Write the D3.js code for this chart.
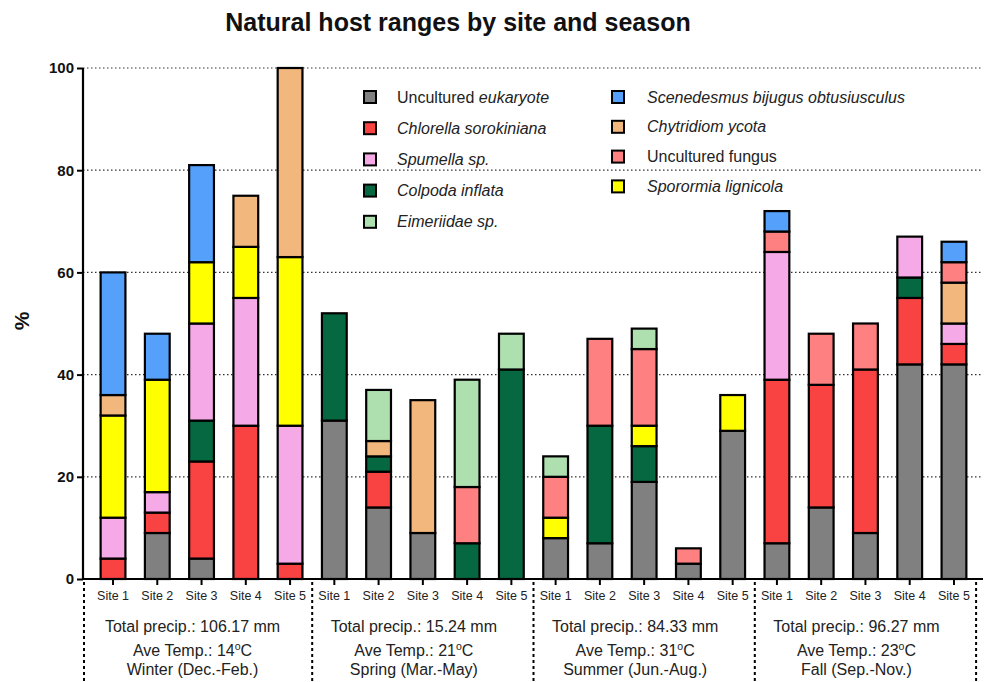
<!DOCTYPE html>
<html><head><meta charset="utf-8">
<script src="https://cdn.jsdelivr.net/npm/d3@7/dist/d3.min.js"></script>
<style>body{margin:0;background:#fff}svg{font-family:"Liberation Sans",Arial,sans-serif}</style>
</head><body><svg id="c" width="987" height="682"></svg>
<script>
const sites = ["Site 1","Site 2","Site 3","Site 4","Site 5"];
const seasons = ["Winter (Dec.-Feb.)","Spring (Mar.-May)","Summer (Jun.-Aug.)","Fall (Sep.-Nov.)"];
const precip = ["106.17","15.24","84.33","96.27"];
const temps = ["14","21","31","23"];
const yTicks = [0,20,40,60,80,100];

// values per bar: Winter S1..S5, Spring S1..S5, Summer S1..S5, Fall S1..S5
const eukaryote   = [0,9,4,0,0,   31,14,9,0,0,   8,7,19,3,29,  7,14,9,42,42];
const chlorella   = [4,4,19,30,3, 0,7,0,0,0,     0,0,0,0,0,    32,24,32,13,4];
const colpoda     = [0,0,8,0,0,   21,3,0,7,41,   0,23,7,0,0,   0,0,0,4,0];
const spumella    = [8,4,19,25,27,0,0,0,0,0,     0,0,0,0,0,    25,0,0,8,4];
const sporormia   = [20,22,12,10,33,0,0,0,0,0,   4,0,4,0,7,    0,0,0,0,0];
const chytridiom  = [4,0,0,10,37, 0,3,26,0,0,    0,0,0,0,0,    0,0,0,0,8];
const fungus      = [0,0,0,0,0,   0,0,0,11,0,    8,17,15,3,0,  4,10,9,0,4];
const eimeriidae  = [0,0,0,0,0,   0,10,0,21,7,   4,0,4,0,0,    0,0,0,0,0];
const scenedesmus = [24,9,19,0,0, 0,0,0,0,0,     0,0,0,0,0,    4,0,0,0,4];

const series = [
  {key:"eukaryote", vals:eukaryote, color:"#808080", label:[["Uncultured ",false],["eukaryote",true]]},
  {key:"chlorella", vals:chlorella, color:"#F94242", label:[["Chlorella sorokiniana",true]]},
  {key:"colpoda", vals:colpoda, color:"#066841", label:[["Colpoda inflata",true]]},
  {key:"spumella", vals:spumella, color:"#F5AAE7", label:[["Spumella sp.",true]]},
  {key:"sporormia", vals:sporormia, color:"#FFFF00", label:[["Sporormia lignicola",true]]},
  {key:"chytridiom", vals:chytridiom, color:"#F2B77D", label:[["Chytridiom ycota",true]]},
  {key:"fungus", vals:fungus, color:"#FE8080", label:[["Uncultured fungus",false]]},
  {key:"eimeriidae", vals:eimeriidae, color:"#AEDFAF", label:[["Eimeriidae sp.",true]]},
  {key:"scenedesmus", vals:scenedesmus, color:"#55A0FB", label:[["Scenedesmus bijugus obtusiusculus",true]]}
];
const legendCol1 = ["eukaryote","chlorella","spumella","colpoda","eimeriidae"];
const legendCol2 = ["scenedesmus","chytridiom","fungus","sporormia"];

const svg = d3.select("#c");
const bars = [];
seasons.forEach((s,i)=>sites.forEach((t,j)=>bars.push(i*5+j)));
const rows = bars.map(b=>{const r={id:b}; series.forEach(s=>r[s.key]=s.vals[b]); return r;});
const stack = d3.stack().keys(series.map(s=>s.key))(rows);

const x = d3.scaleBand().domain(bars).range([90.9,976.1]).paddingInner(0.44).paddingOuter(0.22);
const y = d3.scaleLinear().domain([0,100]).range([579,68]);
const axX0 = 83, axX1 = 983;

// gridlines
svg.append("g").selectAll("line").data(yTicks.filter(d=>d>0)).join("line")
  .attr("x1",axX0).attr("x2",axX1).attr("y1",d=>y(d)).attr("y2",d=>y(d))
  .attr("stroke","#333").attr("stroke-width",1.2).attr("stroke-dasharray","1.5,2.5");

// legend
const legG = svg.append("g");
function legend(keys, sx, tx, y0, dy){
  keys.forEach((k,i)=>{
    const s = series.find(d=>d.key===k);
    const yy = y0 + i*dy;
    legG.append("rect").attr("x",sx-6).attr("y",yy-6).attr("width",12).attr("height",12)
      .attr("fill",s.color).attr("stroke","#000").attr("stroke-width",2);
    const t = legG.append("text").attr("x",tx).attr("y",yy+5.5).attr("font-size",16).attr("fill","#222");
    s.label.forEach(([txt,it])=>t.append("tspan").text(txt).attr("font-style",it?"italic":"normal"));
  });
}
legend(legendCol1, 370, 397, 97, 31.2);
legend(legendCol2, 618, 647, 97, 29.8);

// bars
svg.append("g").selectAll("g").data(stack).join("g")
  .attr("fill",(d,i)=>series[i].color)
  .selectAll("rect").data(d=>d.filter(p=>p[1]-p[0]>0)).join("rect")
  .attr("x",d=>x(d.data.id)).attr("width",x.bandwidth())
  .attr("y",d=>y(d[1])).attr("height",d=>y(d[0])-y(d[1]))
  .attr("stroke","#000").attr("stroke-width",2.2);

// y axis
const ya = svg.append("g").attr("transform",`translate(${axX0},0)`)
  .call(d3.axisLeft(y).tickValues(yTicks).tickSize(6).tickPadding(3));
ya.select(".domain").attr("stroke-width",2.2).attr("d",`M0,${y(100)}V${y(0)}`);
ya.selectAll(".tick line").attr("stroke-width",2);
ya.selectAll("text").attr("font-size",15).attr("font-weight","bold").attr("fill","#111")
  .attr("font-family","'Liberation Sans',Arial,sans-serif");

// x axis
const xa = svg.append("g").attr("transform",`translate(0,${y(0)})`)
  .call(d3.axisBottom(x).tickSize(6).tickPadding(6).tickFormat(d=>sites[d%5]));
xa.select(".domain").attr("stroke-width",2.2).attr("d",`M${axX0},0H${axX1}`);
xa.selectAll(".tick line").attr("stroke-width",2);
xa.selectAll("text").attr("font-size",12.5).attr("fill","#222")
  .attr("font-family","'Liberation Sans',Arial,sans-serif");

// separators
const step = x.step();
const seps = [axX0+1].concat(seasons.map((s,i)=>x(i*5+4)+x.bandwidth()/2+step/2));
svg.append("g").selectAll("line").data(seps).join("line")
  .attr("x1",d=>d).attr("x2",d=>d).attr("y1",y(0)+3).attr("y2",682)
  .attr("stroke","#000").attr("stroke-width",2).attr("stroke-dasharray","3,3");

// season texts
const sg = svg.append("g").attr("font-size",16).attr("fill","#222").attr("text-anchor","middle");
seasons.forEach((s,i)=>{
  const cx = (x(i*5)+x(i*5+4)+x.bandwidth())/2 - 9;
  sg.append("text").attr("x",cx).attr("y",632).text(`Total precip.: ${precip[i]} mm`);
  const t = sg.append("text").attr("x",cx).attr("y",656);
  t.append("tspan").text(`Ave Temp.: ${temps[i]}`);
  t.append("tspan").text("o").attr("font-size",10.5).attr("dy",-6.5);
  t.append("tspan").text("C").attr("dy",6.5);
  sg.append("text").attr("x",cx).attr("y",675).text(s);
});

// y label
svg.append("text").attr("transform","translate(29,321) rotate(-90)").attr("text-anchor","middle")
  .attr("font-size",21).attr("font-weight","bold").attr("fill","#111").text("%");

// title
svg.append("text").attr("x",458).attr("y",31).attr("text-anchor","middle")
  .attr("font-size",25).attr("font-weight","bold").attr("fill","#111").text("Natural host ranges by site and season");
</script></body></html>
